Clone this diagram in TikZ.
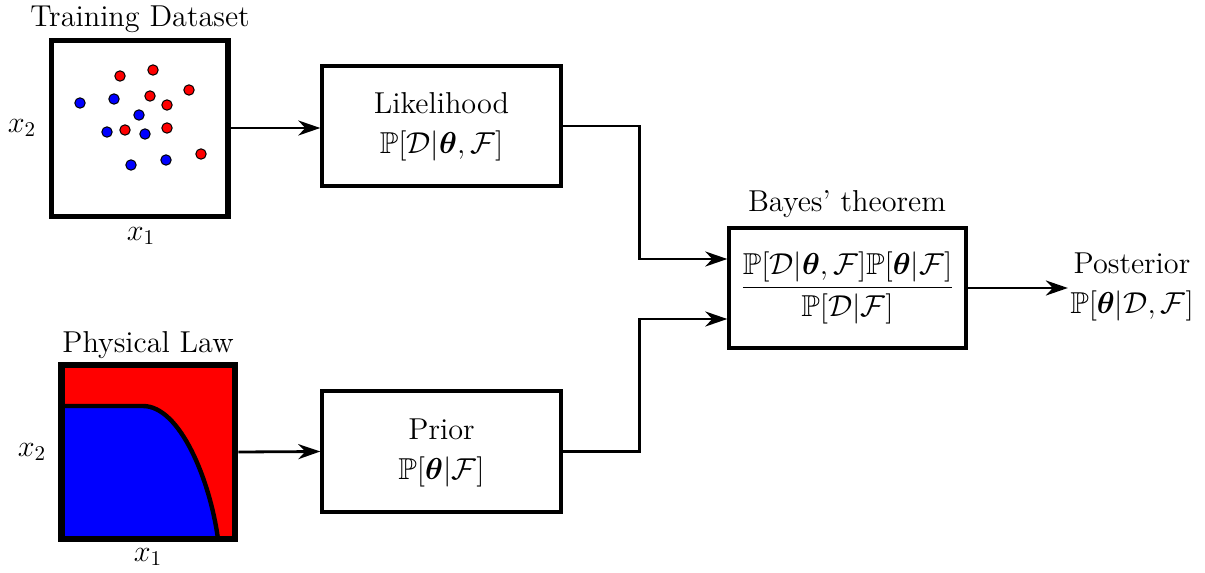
\documentclass[tikz,border=0pt]{standalone}
\usepackage{amsmath,amssymb,bm,graphicx}
\usetikzlibrary{arrows.meta,calc}
\newcommand{\sctxt}[1]{\scalebox{1.05}{#1}}
\newcommand{\twoline}[2]{\scalebox{1.05}{\begin{tabular}{@{}c@{}}#1\\[1pt] #2\end{tabular}}}
\begin{document}
\begin{tikzpicture}[x=0.5pt,y=-0.5pt,
  txt/.style={font=\Large, inner sep=2pt},
  blockbox/.style={draw, line width=1.7pt, align=center, font=\Large, inner sep=0pt},
  conn/.style={line width=1.4pt, -{Stealth[length=11pt,width=7.5pt,inset=3.5pt]}},
  dotr/.style={draw=black, line width=0.5pt, fill=red},
  dotb/.style={draw=black, line width=0.5pt, fill=blue}]
\useasboundingbox (0,0) rectangle (1205,573);

% Training dataset
\node[draw, line width=2.6pt, minimum width=88.25pt, minimum height=88pt, inner sep=0pt] (train) at (139.75,128.5) {};
\foreach \p in {(120,76),(153,70),(189,90),(150,96),(167,105),(125,130),(167,128),(201,154)}
  \draw[dotr] \p circle[radius=2.6pt];
\foreach \p in {(80,103),(114,99),(139,115),(107,132),(145,134),(131,165),(166,160)}
  \draw[dotb] \p circle[radius=2.6pt];
\node[txt] (traintitle) at (140,19) {\sctxt{Training Dataset}};
\node[txt] (trainx2) at (22,128) {\sctxt{$x_2$}};
\node[txt] (trainx1) at (141,236) {\sctxt{$x_1$}};

% Physical law
\fill[red] (61.5,365) rectangle (235,539);
\fill[blue] (61.5,406) -- (143,406) .. controls (180,406) and (210,480) .. (218,539) -- (61.5,539) -- cycle;
\draw[line width=2.2pt] (61.5,406) -- (143,406) .. controls (180,406) and (210,480) .. (218,539);
\node[draw, line width=3.4pt, minimum width=86.75pt, minimum height=87pt, inner sep=0pt] (phys) at (148.25,452) {};
\node[txt] (phystitle) at (148,345) {\sctxt{Physical Law}};
\node[txt] (physx2) at (32,452) {\sctxt{$x_2$}};
\node[txt] (physx1) at (148,557) {\sctxt{$x_1$}};

% Blocks
\node[blockbox, minimum width=119.5pt, minimum height=60pt] (lik) at (441.5,126)
  {\twoline{Likelihood}{$\mathbb{P}[\mathcal{D}|\bm{\theta},\mathcal{F}]$}};
\node[blockbox, minimum width=119.5pt, minimum height=60.5pt] (prior) at (441.5,451.5)
  {\twoline{Prior}{$\mathbb{P}[\bm{\theta}|\mathcal{F}]$}};
\node[blockbox, minimum width=118.5pt, minimum height=60pt] (bayes) at (847.5,288)
  {\sctxt{$\displaystyle\frac{\mathbb{P}[\mathcal{D}|\bm{\theta},\mathcal{F}]\mathbb{P}[\bm{\theta}|\mathcal{F}]}{\mathbb{P}[\mathcal{D}|\mathcal{F}]}$}};
\node[txt] (bayestitle) at (847,204) {\sctxt{Bayes' theorem}};
\node[txt, inner sep=1pt] (post) at (1132,286)
  {\twoline{Posterior}{$\mathbb{P}[\bm{\theta}|\mathcal{D},\mathcal{F}]$}};

% Connectors
\coordinate (inA) at ($(bayes.west)+(0,14.5pt)$);
\coordinate (inB) at ($(bayes.west)+(0,-15.5pt)$);
\draw[conn] (train.east |- 0,128) -- (lik.west |- 0,128);
\draw[conn] (phys.east) -- (prior.west);
\draw[conn] (lik.east) -- ++(77,0) |- (inA);
\draw[conn] (prior.east) -- ++(77,0) |- (inB);
\draw[conn] (bayes.east) -- (post.west |- bayes.east);
\end{tikzpicture}
\end{document}
